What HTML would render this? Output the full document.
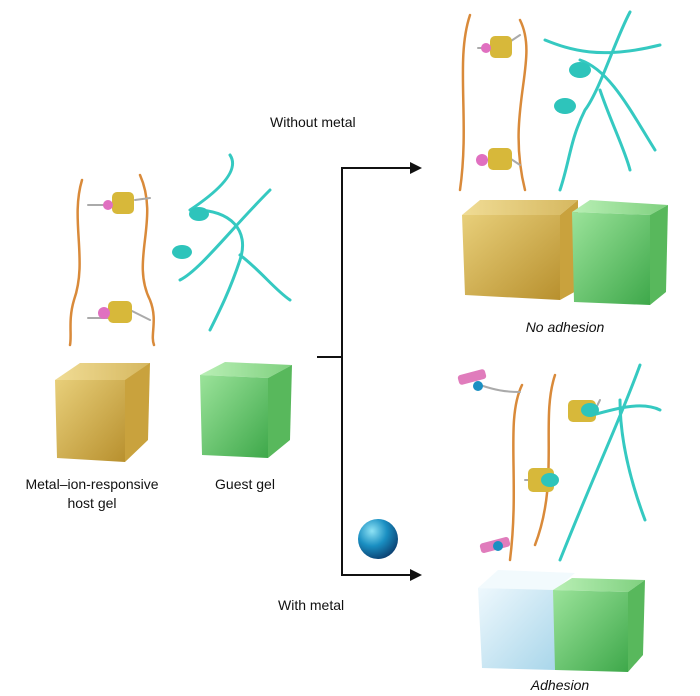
<!DOCTYPE html>
<html><head><meta charset="utf-8"><style>
html,body{margin:0;padding:0;background:#fff;}
svg{display:block}
text{font-family:"Liberation Sans",sans-serif;font-size:14px;fill:#111}
</style></head><body>
<svg width="700" height="696" viewBox="0 0 700 696" xmlns="http://www.w3.org/2000/svg">
<defs>
<linearGradient id="yel" x1="0" y1="0" x2="1" y2="1"><stop offset="0" stop-color="#e8cf7a"/><stop offset="1" stop-color="#b8902e"/></linearGradient>
<linearGradient id="yelTop" x1="0" y1="0" x2="1" y2="0"><stop offset="0" stop-color="#f0dc95"/><stop offset="1" stop-color="#d6b860"/></linearGradient>
<linearGradient id="grn" x1="0" y1="0" x2="1" y2="1"><stop offset="0" stop-color="#9be39a"/><stop offset="1" stop-color="#3ea84a"/></linearGradient>
<linearGradient id="grnTop" x1="0" y1="0" x2="1" y2="0"><stop offset="0" stop-color="#b9efb5"/><stop offset="1" stop-color="#7fd07f"/></linearGradient>
<linearGradient id="blu" x1="0" y1="0" x2="1" y2="1"><stop offset="0" stop-color="#eef8fd"/><stop offset="1" stop-color="#a9d6ea"/></linearGradient>
<radialGradient id="ball" cx="0.35" cy="0.3" r="0.75"><stop offset="0" stop-color="#8fe3f5"/><stop offset="0.5" stop-color="#1a8fc2"/><stop offset="1" stop-color="#0b3f70"/></radialGradient>
<marker id="ar" markerWidth="12" markerHeight="12" refX="10" refY="6" orient="auto" markerUnits="userSpaceOnUse"><path d="M0,0 L12,6 L0,12 Z" fill="#111"/></marker>
</defs>

<!-- Left strands -->
<g fill="none" stroke-linecap="round">
<path d="M82,180 C70,220 88,260 74,300 C68,320 72,335 70,345" stroke="#d98a3a" stroke-width="2.5"/>
<path d="M140,175 C160,220 130,260 150,300 C158,320 150,335 154,345" stroke="#d98a3a" stroke-width="2.5"/>
<path d="M190,210 C220,190 240,170 230,155 M195,210 C230,210 250,230 240,260 C230,290 220,310 210,330 M180,280 C200,270 230,230 270,190 M240,255 C260,270 275,290 290,300" stroke="#35c9c1" stroke-width="3"/>
<path d="M88,205 L118,205 M88,318 L118,318 M135,200 L150,198 M130,310 L150,320" stroke="#aaa" stroke-width="2"/>
</g>
<rect x="112" y="192" width="22" height="22" rx="5" fill="#d7b83a"/><circle cx="108" cy="205" r="5" fill="#e070c0"/>
<rect x="108" y="301" width="24" height="22" rx="5" fill="#d7b83a"/><circle cx="104" cy="313" r="6" fill="#e070c0"/>
<ellipse cx="199" cy="214" rx="10" ry="7" fill="#2ec4bb"/><ellipse cx="182" cy="252" rx="10" ry="7" fill="#2ec4bb"/>

<!-- Left cubes -->
<polygon points="55,380 80,363 150,363 148,380" fill="url(#yelTop)"/>
<polygon points="55,380 125,380 125,462 57,458" fill="url(#yel)"/>
<polygon points="125,380 150,363 148,440 125,462" fill="#c9a23d"/>
<polygon points="200,375 225,362 292,365 268,378" fill="url(#grnTop)"/>
<polygon points="200,375 268,378 268,458 202,455" fill="url(#grn)"/>
<polygon points="268,378 292,365 290,440 268,458" fill="#58b85c"/>

<text x="92" y="489" text-anchor="middle">Metal–ion-responsive</text>
<text x="92" y="508" text-anchor="middle">host gel</text>
<text x="245" y="489" text-anchor="middle">Guest gel</text>

<!-- Bracket -->
<g stroke="#111" stroke-width="2" fill="none">
<line x1="317" y1="357" x2="342" y2="357"/>
<line x1="342" y1="168" x2="342" y2="575"/>
<line x1="341" y1="168" x2="420" y2="168" marker-end="url(#ar)"/>
<line x1="341" y1="575" x2="420" y2="575" marker-end="url(#ar)"/>
</g>
<text x="270" y="127">Without metal</text>
<text x="278" y="610">With metal</text>
<circle cx="378" cy="539" r="20" fill="url(#ball)"/>

<!-- Top right strands -->
<g fill="none" stroke-linecap="round">
<path d="M470,15 C455,60 470,120 460,190" stroke="#d98a3a" stroke-width="2.5"/>
<path d="M520,20 C540,60 505,110 525,190" stroke="#d98a3a" stroke-width="2.5"/>
<path d="M630,12 C615,40 600,90 585,110 C570,140 570,160 560,190 M580,60 C610,70 630,110 655,150 M545,40 C570,50 600,60 660,45 M600,90 C610,120 625,150 630,170" stroke="#35c9c1" stroke-width="3"/>
<path d="M478,48 L495,48 M478,160 L495,160 M505,45 L520,35 M505,155 L520,165" stroke="#aaa" stroke-width="2"/>
</g>
<rect x="490" y="36" width="22" height="22" rx="5" fill="#d7b83a"/><circle cx="486" cy="48" r="5" fill="#e070c0"/>
<rect x="488" y="148" width="24" height="22" rx="5" fill="#d7b83a"/><circle cx="482" cy="160" r="6" fill="#e070c0"/>
<ellipse cx="580" cy="70" rx="11" ry="8" fill="#2ec4bb"/><ellipse cx="565" cy="106" rx="11" ry="8" fill="#2ec4bb"/>

<polygon points="462,215 480,200 578,200 560,215" fill="url(#yelTop)"/>
<polygon points="462,215 560,215 560,300 465,295" fill="url(#yel)"/>
<polygon points="560,215 578,200 578,290 560,300" fill="#c9a23d"/>
<polygon points="572,212 590,200 668,205 650,215" fill="url(#grnTop)"/>
<polygon points="572,212 650,215 650,305 574,302" fill="url(#grn)"/>
<polygon points="650,215 668,205 666,292 650,305" fill="#58b85c"/>
<text x="565" y="332" text-anchor="middle" font-style="italic">No adhesion</text>

<!-- Bottom right strands -->
<g fill="none" stroke-linecap="round">
<path d="M522,385 C505,420 520,480 510,560" stroke="#d98a3a" stroke-width="2.5"/>
<path d="M555,375 C540,420 560,480 535,545" stroke="#d98a3a" stroke-width="2.5"/>
<path d="M640,365 C620,420 600,460 560,560 M620,400 C620,440 630,480 645,520 M575,420 C610,410 640,400 660,410" stroke="#35c9c1" stroke-width="3"/>
<path d="M480,385 C495,390 505,392 520,392 M525,480 L545,480 M590,420 L600,400" stroke="#aaa" stroke-width="2"/>
</g>
<rect x="458" y="372" width="28" height="10" rx="3" fill="#e07cbc" transform="rotate(-15 472 377)"/><circle cx="478" cy="386" r="5" fill="#1a8fc2"/>
<rect x="568" y="400" width="28" height="22" rx="5" fill="#d7b83a"/><ellipse cx="590" cy="410" rx="9" ry="7" fill="#2ec4bb"/>
<rect x="528" y="468" width="26" height="24" rx="5" fill="#d7b83a"/><ellipse cx="550" cy="480" rx="9" ry="7" fill="#2ec4bb"/>
<rect x="480" y="540" width="30" height="10" rx="3" fill="#e07cbc" transform="rotate(-15 495 545)"/><circle cx="498" cy="546" r="5" fill="#1a8fc2"/>

<polygon points="478,588 498,570 575,573 555,590" fill="#f2fafd"/>
<polygon points="478,588 555,590 555,670 482,668" fill="url(#blu)"/>
<polygon points="553,590 572,578 645,580 628,592" fill="url(#grnTop)"/>
<polygon points="553,590 628,592 628,672 555,670" fill="url(#grn)"/>
<polygon points="628,592 645,580 643,655 628,672" fill="#58b85c"/>
<text x="560" y="690" text-anchor="middle" font-style="italic">Adhesion</text>
</svg>
</body></html>
